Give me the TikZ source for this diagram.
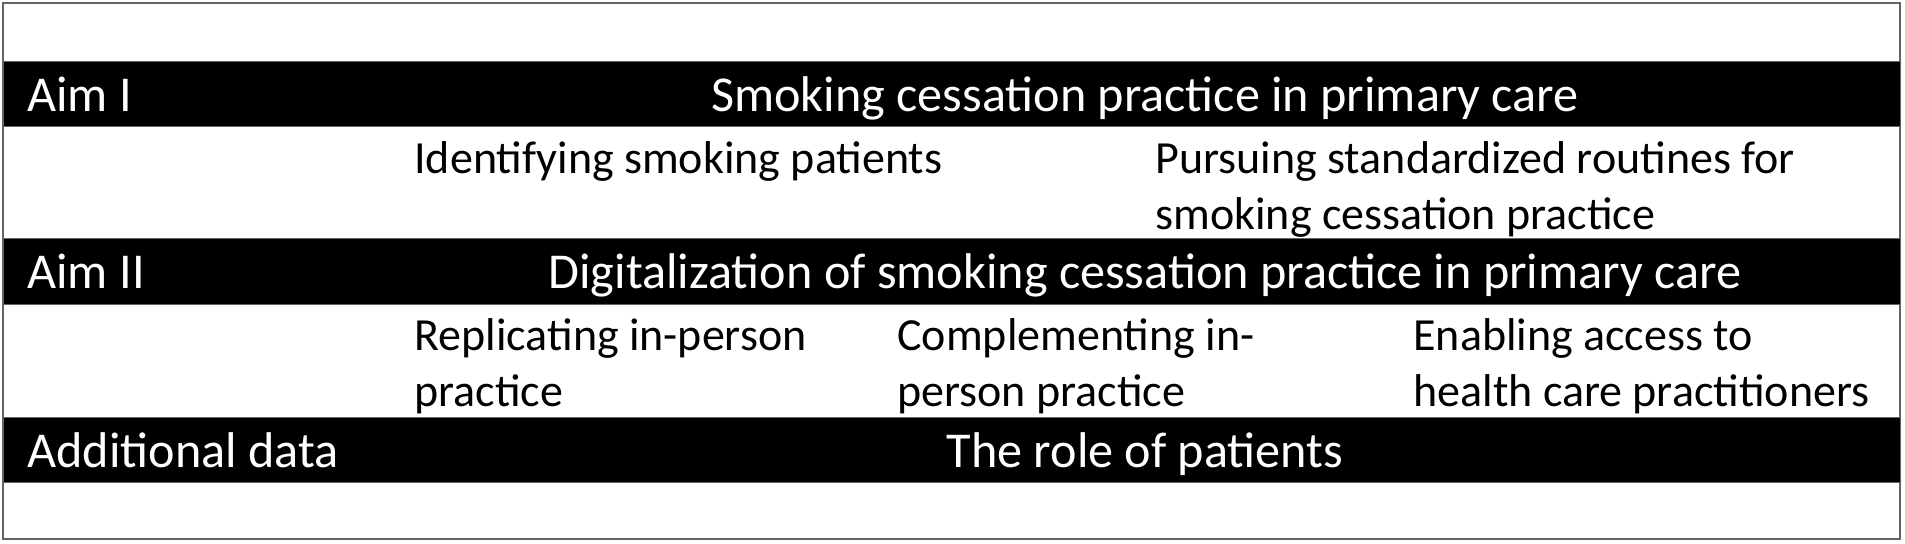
\documentclass[tikz,border=0pt]{standalone}
\usepackage{fontspec}
\setmainfont{Carlito}
\usetikzlibrary{positioning}
\definecolor{rulegray}{RGB}{100,100,100}

\begin{document}
\begin{tikzpicture}[x=0.5pt, y=-0.5pt,
    band/.style={fill=black, draw=rulegray, line width=0.5pt},
    aim/.style={anchor=base west, inner sep=0pt, text=white, font=\fontsize{25.1}{28}\selectfont},
    theme/.style={anchor=base, inner sep=0pt, text=white, font=\fontsize{25.1}{28}\selectfont},
    sub/.style={anchor=base west, inner sep=0pt, align=left, font=\fontsize{23}{28}\selectfont}]
  \useasboundingbox (0,0) rectangle (1905,544);
  \draw[rulegray, line width=1.2pt] (3,3) rectangle (1900,539);
  \path[band] (3,62) rectangle (1900,127);
  \path[band] (3,239) rectangle (1900,305);
  \path[band] (3,418) rectangle (1900,483);

  % Aim I  (base of a two-line node = last line)
  \node[aim] (aim1) at (27,112) {Aim I};
  \node[theme] (theme1) at (1145,112) {Smoking cessation practice in primary care};
  \node[sub] (ident) at (414,174) {Identifying smoking patients};
  \node[sub] (pursue) at (1155,230) {Pursuing standardized routines for\\smoking cessation practice};

  % Aim II
  \node[aim] (aim2) at (27,289) {Aim II};
  \node[theme] (theme2) at (1145,289) {Digitalization of smoking cessation practice in primary care};
  \node[sub] (replic) at (414,407) {Replicating in-person\\practice};
  \node[sub] (compl) at (897,407) {Complementing in-\\person practice};
  \node[sub] (enable) at (1413,407) {Enabling access to\\health care practitioners};

  % additional data
  \node[aim] (extra) at (27,468) {Additional data};
  \node[theme] (theme3) at (1145,468) {The role of patients};
\end{tikzpicture}
\end{document}
